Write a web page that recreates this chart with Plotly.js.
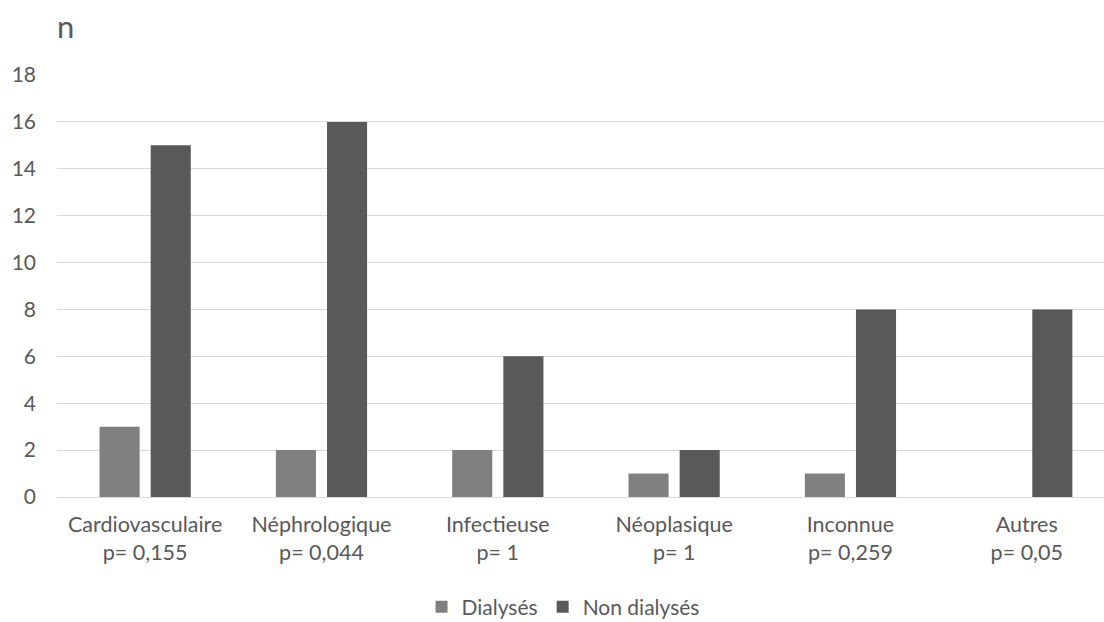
<!DOCTYPE html>
<html>
<head>
<meta charset="utf-8">
<script src="https://cdn.plot.ly/plotly-3.0.1.min.js"></script>
<style>html,body{margin:0;padding:0;background:#fff;}#chart{width:1104px;height:622px;}</style>
</head>
<body>
<div id="chart"></div>
<script>
const categories = ["Cardiovasculaire<br>p= 0,155", "Néphrologique<br>p= 0,044", "Infectieuse<br>p= 1", "Néoplasique<br>p= 1", "Inconnue<br>p= 0,259", "Autres<br>p= 0,05"];
const dialyses = [3, 2, 2, 1, 1, 0];
const nonDialyses = [15, 16, 6, 2, 8, 8];
const yTicks = [0, 2, 4, 6, 8, 10, 12, 14, 16, 18];

const font = {family: "Lato, Open Sans, sans-serif", size: 21.5, color: "#595959"};

const data = [
  {type: "bar", name: "Dialysés", x: categories, y: dialyses, marker: {color: "#808080"}},
  {type: "bar", name: "Non dialysés", x: categories, y: nonDialyses, marker: {color: "#595959"}}
];

const layout = {
  width: 1104, height: 622,
  margin: {l: 57, r: 0, t: 75, b: 125},
  paper_bgcolor: "#fff", plot_bgcolor: "#fff",
  font: font,
  barmode: "group", bargap: 0.42, bargroupgap: 0.216,
  showlegend: true,
  legend: {orientation: "h", xref: "container", yref: "container", x: 0.51, xanchor: "center", y: 0.024, yanchor: "middle", font: {family: font.family, size: 21, color: "#595959"}, itemwidth: 30, traceorder: "normal"},
  xaxis: {type: "category", range: [-0.5, 5.438], showgrid: false, showline: true, linecolor: "#d9d9d9", linewidth: 1, ticks: "", ticklabelstandoff: 8, tickfont: font, automargin: false, fixedrange: true},
  yaxis: {range: [0, 18], tickvals: yTicks, ticktext: yTicks.map(String), showgrid: true, gridcolor: "#d9d9d9", gridwidth: 1, zeroline: true, zerolinecolor: "#d9d9d9", showline: false, ticks: "", ticklabelstandoff: 20, tickfont: {family: font.family, size: 21, color: "#595959"}, automargin: false, fixedrange: true},
  annotations: [{text: "n", xref: "paper", yref: "paper", x: 0, y: 1, xshift: 8, yshift: 49, xanchor: "center", yanchor: "middle", showarrow: false, font: {family: font.family, size: 31, color: "#595959"}}]
};

Plotly.newPlot("chart", data, layout, {displayModeBar: false, staticPlot: true});
</script>
</body>
</html>
